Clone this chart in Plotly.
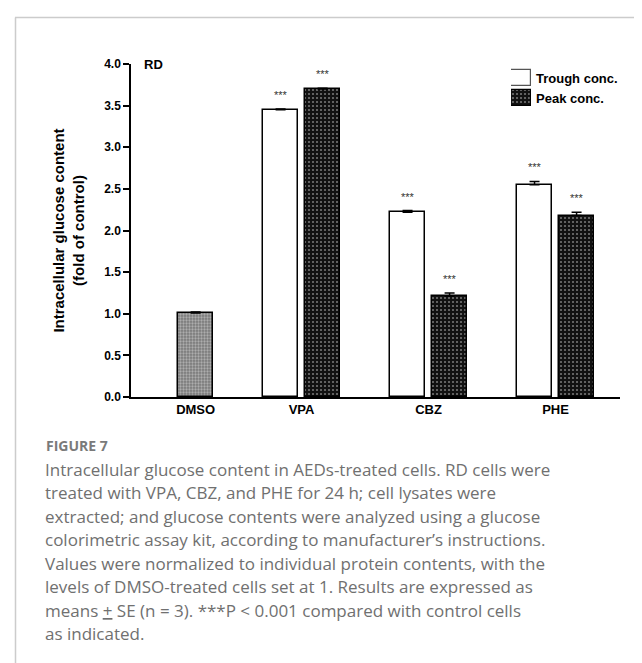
import plotly.graph_objects as go

categories = ["DMSO", "VPA", "CBZ", "PHE"]
dmso_value = [1.01]
dmso_se = [0.01]
trough_cats = ["VPA", "CBZ", "PHE"]
trough_values = [3.45, 2.22, 2.55]
trough_se = [0.01, 0.02, 0.04]
peak_cats = ["VPA", "CBZ", "PHE"]
peak_values = [3.70, 1.21, 2.18]
peak_se = [0.01, 0.04, 0.04]
y_ticks = [0.0, 0.5, 1.0, 1.5, 2.0, 2.5, 3.0, 3.5, 4.0]

caption_head = "FIGURE 7"
caption_lines = [
    "Intracellular glucose content in AEDs-treated cells. RD cells were",
    "treated with VPA, CBZ, and PHE for 24 h; cell lysates were",
    "extracted; and glucose contents were analyzed using a glucose",
    "colorimetric assay kit, according to manufacturer\u2019s instructions.",
    "Values were normalized to individual protein contents, with the",
    "levels of DMSO-treated cells set at 1. Results are expressed as",
    "means <u>+</u> SE (n = 3). ***P < 0.001 compared with control cells",
    "as indicated.",
]

# layout geometry (pixels)
W, H = 642, 663
L, R, T, B = 123, 30, 56, 274
pw = W - L - R
ph = H - T - B
def px_x(p):
    return (p - L) / pw
def px_y(p):
    return (H - B - p) / ph

pos = {c: i for i, c in enumerate(categories)}
bw = 0.276
off_trough = -0.303
off_peak = 0.028

pat_peak = dict(shape=".", bgcolor="#111111", fgcolor="#d8d8d8", size=4, solidity=0.22)
pat_dmso = dict(shape=".", bgcolor="#7a7a7a", fgcolor="#e0e0e0", size=3, solidity=0.45)

fig = go.Figure()
err_style = dict(type="data", symmetric=False, color="black", thickness=1.5, width=5)

fig.add_trace(go.Bar(
    x=[pos["DMSO"]], y=dmso_value, width=bw, offset=off_peak,
    marker=dict(color="#909090", pattern=pat_dmso, line=dict(color="black", width=1.5)),
    error_y=dict(array=dmso_se, arrayminus=[0], **err_style), showlegend=False))
fig.add_trace(go.Bar(
    x=[pos[c] for c in trough_cats], y=trough_values, width=bw, offset=off_trough,
    marker=dict(color="white", line=dict(color="black", width=1.5)),
    error_y=dict(array=trough_se, arrayminus=[0]*3, **err_style), showlegend=False))
fig.add_trace(go.Bar(
    x=[pos[c] for c in peak_cats], y=peak_values, width=bw, offset=off_peak,
    marker=dict(color="#111111", pattern=pat_peak, line=dict(color="black", width=1.5)),
    error_y=dict(array=peak_se, arrayminus=[0]*3, **err_style), showlegend=False))

# legend swatches on a hidden axis
fig.add_trace(go.Bar(
    y=["Peak conc.", "Trough conc."], x=[1, 0], orientation="h", width=0.78,
    marker=dict(color="#111111", pattern=pat_peak, line=dict(color="black", width=1.2)),
    xaxis="x2", yaxis="y2", showlegend=False, hoverinfo="skip"))
fig.add_trace(go.Bar(
    y=["Peak conc.", "Trough conc."], x=[0, 1], orientation="h", width=0.78,
    marker=dict(color="white", line=dict(color="#555", width=1.2)),
    xaxis="x2", yaxis="y2", showlegend=False, hoverinfo="skip"))

ann = []
star_font = dict(family="Liberation Sans, Arial", size=11, color="#333333")
for cats, vals, ses, off in [(trough_cats, trough_values, trough_se, off_trough),
                             (peak_cats, peak_values, peak_se, off_peak)]:
    for c, v, s in zip(cats, vals, ses):
        ann.append(dict(x=pos[c] + off + bw / 2, y=v + s, xref="x", yref="y", text="***",
                        showarrow=False, yshift=14, font=star_font))

ann.append(dict(x=px_x(134), y=px_y(56), xref="paper", yref="paper", text="<b>RD</b>",
                xanchor="left", yanchor="middle", showarrow=False,
                font=dict(family="Liberation Sans, Arial", size=13, color="black")))
for txt, yy in [("Trough conc.", 70), ("Peak conc.", 90)]:
    ann.append(dict(x=px_x(526), y=px_y(yy), xref="paper", yref="paper", text="<b>" + txt + "</b>",
                    xanchor="left", yanchor="middle", showarrow=False,
                    font=dict(family="Liberation Sans, Arial", size=13, color="black")))

ann.append(dict(x=px_x(36), y=px_y(438), xref="paper", yref="paper", text="<b>" + caption_head + "</b>",
                xanchor="left", yanchor="middle", showarrow=False,
                font=dict(family="Open Sans", size=14, color="#7a7a7a")))
for k, line in enumerate(caption_lines):
    ann.append(dict(x=px_x(35), y=px_y(461 + 23.5 * k), xref="paper", yref="paper", text=line,
                    xanchor="left", yanchor="middle", showarrow=False,
                    font=dict(family="Open Sans", size=17, color="#707070")))

tickvals = [pos["DMSO"] + off_peak + bw / 2] + [pos[c] for c in categories[1:]]

fig.update_layout(
    width=W, height=H, margin=dict(l=L, r=R, t=T, b=B),
    paper_bgcolor="white", plot_bgcolor="white", barmode="overlay", bargap=0,
    showlegend=False, annotations=ann,
    font=dict(family="Liberation Sans, Arial", color="black"),
    xaxis=dict(range=[-0.343, 3.508], tickvals=tickvals, ticktext=["<b>%s</b>" % c for c in categories],
               showline=True, linecolor="black", linewidth=1.5, ticks="", showgrid=False,
               zeroline=False, tickfont=dict(size=13, color="black")),
    yaxis=dict(range=[0, 4], tickvals=y_ticks, ticktext=["<b>%.1f</b>" % v for v in y_ticks],
               showline=True, linecolor="black", linewidth=1.5, ticks="outside", ticklen=6,
               tickwidth=1.5, tickcolor="black", showgrid=False, zeroline=False,
               tickfont=dict(size=12, color="black"),
               title=dict(text="<b>Intracellular glucose content<br>(fold of control)</b>",
                          font=dict(size=15, color="black"), standoff=16)),
    xaxis2=dict(domain=[px_x(503), px_x(523)], range=[0, 1], visible=False, fixedrange=True),
    yaxis2=dict(domain=[px_y(100), px_y(60)], range=[-0.5, 1.5], visible=False,
                categoryorder="array", categoryarray=["Peak conc.", "Trough conc."], fixedrange=True),
    shapes=[
        dict(type="line", xref="paper", yref="paper", x0=px_x(7), x1=px_x(W + 5), y0=px_y(9.5), y1=px_y(9.5),
             line=dict(color="#cccccc", width=1.5)),
        dict(type="line", xref="paper", yref="paper", x0=px_x(7.5), x1=px_x(7.5), y0=px_y(9.5), y1=px_y(H + 5),
             line=dict(color="#cccccc", width=1.5)),
    ],
)

fig.write_html("out.html")
